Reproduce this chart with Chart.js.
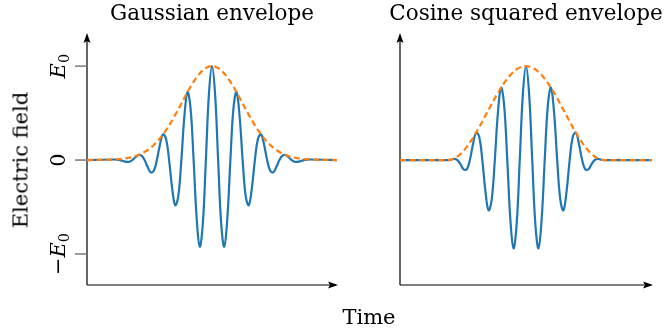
<!DOCTYPE html>
<html>
<head>
<meta charset="utf-8">
<script src="https://cdn.jsdelivr.net/npm/chart.js@4.4.1/dist/chart.umd.min.js"></script>
<style>
  html, body { margin: 0; padding: 0; background: #fff; }
  #wrap { position: relative; width: 665px; height: 336px; overflow: hidden; font-family: "DejaVu Serif", serif; color: #000; }
  .box { position: absolute; top: 0; height: 336px; }
  .lbl { position: absolute; white-space: nowrap; font-size: 21.5px; line-height: 1; }
</style>
</head>
<body>
<div id="wrap">
  <div class="box" style="left:0;width:340px"><canvas id="gauss" width="340" height="336"></canvas></div>
  <div class="box" style="left:340px;width:325px"><canvas id="cossq" width="325" height="336"></canvas></div>
  <div class="lbl" id="t1" style="left:212px;top:2px;transform:translateX(-50%)">Gaussian envelope</div>
  <div class="lbl" id="t2" style="left:526px;top:2px;transform:translateX(-50%)">Cosine squared envelope</div>
  <div class="lbl" id="yl" style="left:21px;top:160px;font-size:21px;transform:translate(-50%,-50%) rotate(-90deg)">Electric field</div>
  <div class="lbl" id="xl" style="left:369px;top:307px;font-size:21px;transform:translateX(-50%)">Time</div>
</div>
<script>
// Time axis in units of the carrier period, field in units of E0.
const gaussTimes = [-5.1, -4, -3.875, -3.75, -3.625, -3.5, -3.375, -3.25, -3.125, -3, -2.875, -2.75, -2.625, -2.5, -2.375, -2.25, -2.125,
  -2, -1.875, -1.75, -1.625, -1.5, -1.375, -1.25, -1.125, -1, -0.875, -0.75, -0.625, -0.5, -0.375, -0.25, -0.125,
  0, 0.125, 0.25, 0.375, 0.5, 0.625, 0.75, 0.875, 1, 1.125, 1.25, 1.375, 1.5, 1.625, 1.75, 1.875,
  2, 2.125, 2.25, 2.375, 2.5, 2.625, 2.75, 2.875, 3, 3.125, 3.25, 3.375, 3.5, 3.625, 3.75, 3.875, 4, 5.1];

const gaussField = [0, 0.006, 0.005, 0, -0.010, -0.019, -0.018, 0, 0.030, 0.054, 0.048, 0, -0.075, -0.131, -0.113, 0, 0.163,
  0.273, 0.226, 0, -0.300, -0.481, -0.383, 0, 0.469, 0.723, 0.551, 0, -0.623, -0.922, -0.676, 0, 0.704,
  1, 0.704, 0, -0.676, -0.922, -0.623, 0, 0.551, 0.723, 0.469, 0, -0.383, -0.481, -0.300, 0, 0.226,
  0.273, 0.163, 0, -0.113, -0.131, -0.075, 0, 0.048, 0.054, 0.030, 0, -0.018, -0.019, -0.010, 0, 0.005, 0.006, 0];

const gaussEnvelope = [0, 0.006, 0.008, 0.010, 0.014, 0.019, 0.025, 0.032, 0.042, 0.054, 0.068, 0.086, 0.107, 0.131, 0.160, 0.193, 0.231,
  0.273, 0.319, 0.370, 0.424, 0.481, 0.541, 0.602, 0.663, 0.723, 0.780, 0.833, 0.881, 0.922, 0.955, 0.980, 0.995,
  1, 0.995, 0.980, 0.955, 0.922, 0.881, 0.833, 0.780, 0.723, 0.663, 0.602, 0.541, 0.481, 0.424, 0.370, 0.319,
  0.273, 0.231, 0.193, 0.160, 0.131, 0.107, 0.086, 0.068, 0.054, 0.042, 0.032, 0.025, 0.019, 0.014, 0.010, 0.008, 0.006, 0];

const cosTimes = [-5.05, -3.125, -3, -2.875, -2.75, -2.625, -2.5, -2.375, -2.25, -2.125,
  -2, -1.875, -1.75, -1.625, -1.5, -1.375, -1.25, -1.125, -1, -0.875, -0.75, -0.625, -0.5, -0.375, -0.25, -0.125,
  0, 0.125, 0.25, 0.375, 0.5, 0.625, 0.75, 0.875, 1, 1.125, 1.25, 1.375, 1.5, 1.625, 1.75, 1.875,
  2, 2.125, 2.25, 2.375, 2.5, 2.625, 2.75, 2.875, 3, 3.125, 5.05];

const cosField = [0, 0, 0.005, 0.013, 0, -0.046, -0.099, -0.099, 0, 0.168,
  0.292, 0.248, 0, -0.335, -0.535, -0.422, 0, 0.506, 0.770, 0.580, 0, -0.640, -0.939, -0.683, 0, 0.704,
  1, 0.704, 0, -0.683, -0.939, -0.640, 0, 0.580, 0.770, 0.506, 0, -0.422, -0.535, -0.335, 0, 0.248,
  0.292, 0.168, 0, -0.099, -0.099, -0.046, 0, 0.013, 0.005, 0, 0];

const cosEnvelope = [0, 0, 0.005, 0.018, 0.038, 0.065, 0.099, 0.140, 0.186, 0.237,
  0.292, 0.350, 0.411, 0.473, 0.535, 0.597, 0.658, 0.716, 0.770, 0.821, 0.866, 0.905, 0.939, 0.965, 0.984, 0.996,
  1, 0.996, 0.984, 0.965, 0.939, 0.905, 0.866, 0.821, 0.770, 0.716, 0.658, 0.597, 0.535, 0.473, 0.411, 0.350,
  0.292, 0.237, 0.186, 0.140, 0.099, 0.065, 0.038, 0.018, 0.005, 0, 0];

// Labelled field levels on the left panel's vertical axis.
const fieldTicks = [1, 0, -1];
const fieldTickLabels = [
  { sign: '', sym: 'E', sub: '0' },
  { plain: '0' },
  { sign: '\u2212', sym: 'E', sub: '0' }
];

const BLUE = '#1f77b4';
const ORANGE = '#ff7f0e';

function pts(xs, ys) { return xs.map((x, i) => ({ x: x, y: ys[i] })); }

// Draws arrow-headed axes, tick marks and rotated tick labels.
function axesPlugin(withTicks) {
  return {
    id: 'arrowAxes',
    beforeDatasetsDraw(chart) {
      const { ctx, chartArea: a } = chart;
      const x0 = chart.scales.x.getPixelForValue(chart.scales.x.min);
      const y0 = a.bottom;
      ctx.save();
      ctx.strokeStyle = '#000';
      ctx.fillStyle = '#000';
      ctx.lineWidth = 1.2;
      ctx.beginPath();
      ctx.moveTo(x0, y0);
      ctx.lineTo(x0, a.top - 1);
      ctx.moveTo(x0, y0);
      ctx.lineTo(a.right - 1, y0);
      ctx.stroke();
      // arrow heads
      ctx.beginPath();
      ctx.moveTo(x0, a.top - 4);
      ctx.lineTo(x0 - 3.5, a.top + 6);
      ctx.lineTo(x0, a.top + 4);
      ctx.lineTo(x0 + 3.5, a.top + 6);
      ctx.closePath();
      ctx.fill();
      ctx.beginPath();
      ctx.moveTo(a.right + 1, y0);
      ctx.lineTo(a.right - 9, y0 - 3.5);
      ctx.lineTo(a.right - 7, y0);
      ctx.lineTo(a.right - 9, y0 + 3.5);
      ctx.closePath();
      ctx.fill();
      if (withTicks) {
        const ys = chart.scales.y;
        ctx.strokeStyle = '#7a7a7a';
        ctx.lineWidth = 1.5;
        fieldTicks.forEach((v, i) => {
          const y = ys.getPixelForValue(v);
          ctx.beginPath();
          ctx.moveTo(x0 - 12, y);
          ctx.lineTo(x0, y);
          ctx.stroke();
          drawTickLabel(ctx, x0 - 22, y, fieldTickLabels[i]);
        });
      }
      ctx.restore();
    }
  };
}

function drawTickLabel(ctx, baseX, cy, lab) {
  const big = '21px "DejaVu Serif", serif';
  const ital = 'italic 21px "DejaVu Serif", serif';
  const small = '14.5px "DejaVu Serif", serif';
  ctx.save();
  ctx.translate(baseX, cy);
  ctx.rotate(-Math.PI / 2);
  ctx.fillStyle = '#000';
  ctx.textBaseline = 'alphabetic';
  ctx.textAlign = 'left';
  if (lab.plain) {
    ctx.font = big;
    const w = ctx.measureText(lab.plain).width;
    ctx.fillText(lab.plain, -w / 2, 0);
  } else {
    ctx.font = big; const w1 = ctx.measureText(lab.sign).width;
    ctx.font = ital; const w2 = ctx.measureText(lab.sym).width;
    ctx.font = small; const w3 = ctx.measureText(lab.sub).width;
    let x = -(w1 + w2 + w3) / 2;
    ctx.font = big; ctx.fillText(lab.sign, x, 0); x += w1;
    ctx.font = ital; ctx.fillText(lab.sym, x, 0); x += w2;
    ctx.font = small; ctx.fillText(lab.sub, x, 4);
  }
  ctx.restore();
}

function makeChart(id, times, field, envelope, xRange, padding, withTicks) {
  return new Chart(document.getElementById(id), {
    type: 'line',
    data: {
      datasets: [
        { data: pts(times, envelope), borderColor: ORANGE, borderWidth: 2.2, borderDash: [6, 3.6],
          pointRadius: 0, cubicInterpolationMode: 'monotone', order: 0 },
        { data: pts(times, field), borderColor: BLUE, borderWidth: 2.2,
          pointRadius: 0, tension: 0.4, order: 1 }
      ]
    },
    options: {
      responsive: false,
      animation: false,
      events: [],
      layout: { padding: padding },
      plugins: { legend: { display: false }, tooltip: { enabled: false } },
      scales: {
        x: { type: 'linear', min: -xRange, max: xRange, display: false },
        y: { type: 'linear', min: -1.33, max: 1.31, display: false }
      }
    },
    plugins: [axesPlugin(withTicks)]
  });
}

makeChart('gauss', gaussTimes, gaussField, gaussEnvelope, 5.1, { left: 87, right: 3, top: 37, bottom: 51 }, true);
makeChart('cossq', cosTimes, cosField, cosEnvelope, 5.05, { left: 60, right: 13, top: 37, bottom: 51 }, false);
</script>
</body>
</html>
